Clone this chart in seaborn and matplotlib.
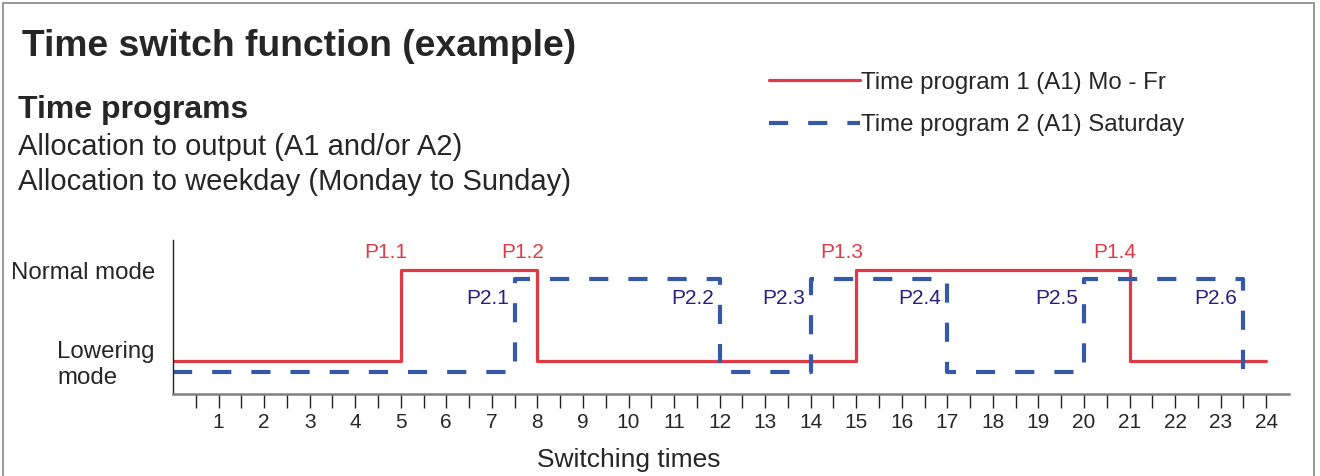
import numpy as np
import pandas as pd
import seaborn as sns
import matplotlib.pyplot as plt
from matplotlib.patches import Rectangle
from matplotlib.lines import Line2D

sns.set_style("white")
plt.rcParams['font.family'] = ['Liberation Sans', 'DejaVu Sans']

# switching times (hours) and state after each switch (1 = normal, 0 = lowering)
p1_times = [0, 5, 8, 15, 21, 24]
p1_states = [0, 1, 0, 1, 0, 0]
p1_labels = ['P1.1', 'P1.2', 'P1.3', 'P1.4']

p2_times = [0, 7.5, 12, 14, 17, 20, 23.5, 23.75]
p2_states = [0, 1, 0, 1, 0, 1, 0, 0]
p2_labels = ['P2.1', 'P2.2', 'P2.3', 'P2.4', 'P2.5', 'P2.6']

hours = list(range(1, 25))
mode_labels = ['Lowering\nmode', 'Normal mode']
series_names = ['Time program 1 (A1) Mo - Fr', 'Time program 2 (A1) Saturday']

red = '#E03A45'
blue = '#3558A8'
navy = '#2A1E80'
dash = (0, (4.6, 4.8))

# drawing levels for the two programs (so the lines don't overlap)
lev1 = (0.0, 1.0)
lev2 = (-0.12, 0.90)

df1 = pd.DataFrame({'t': p1_times,
                    'y': [lev1[s] for s in p1_states]})
df2 = pd.DataFrame({'t': p2_times,
                    'y': [lev2[s] for s in p2_states]})

fig = plt.figure(figsize=(13.2, 4.76), dpi=100)
ax = fig.add_axes([173/1320, 1-394/476, (1289-173)/1320, (394-240)/476])

sns.lineplot(data=df1, x='t', y='y', ax=ax, color=red, lw=2.3,
             drawstyle='steps-post', errorbar=None)
sns.lineplot(data=df2, x='t', y='y', ax=ax, color=blue, lw=3.0,
             drawstyle='steps-post', errorbar=None, linestyle=dash)

ax.set_xlim(0, 24.5)
ax.set_ylim(-0.363, 1.33)

# switch labels
for t, lab in zip(p1_times[1:5], p1_labels):
    ax.text(t + 0.15, 1.19, lab, color=red, fontsize=15,
            ha='right', va='center')
for t, lab in zip(p2_times[1:7], p2_labels):
    ax.text(t - 0.13, 0.69, lab, color=navy, fontsize=15,
            ha='right', va='center')

ax.set_xticks(hours)
ax.set_xticklabels([str(h) for h in hours], fontsize=15)
ax.set_xticks(np.arange(0.5, 24.01, 1.0), minor=True)
ax.tick_params(axis='x', which='both', direction='out', length=10,
               width=1.0, color='#222222', pad=4, bottom=True)
ax.set_yticks([0, 1])
ax.set_yticklabels(mode_labels, fontsize=17.3)
for lab in ax.get_yticklabels():
    lab.set_multialignment('left')
ax.tick_params(axis='y', length=0, pad=13)

ax.set_xlabel('Switching times', fontsize=19)
ax.xaxis.set_label_coords(0.408, -0.35)
ax.set_ylabel('')

for s in ['top', 'right']:
    ax.spines[s].set_visible(False)
ax.spines['left'].set_color('#222222')
ax.spines['left'].set_linewidth(1.0)
ax.spines['bottom'].set_color('#808080')
ax.spines['bottom'].set_linewidth(1.8)

# legend
handles = [Line2D([], [], color=red, lw=2.3),
           Line2D([], [], color=blue, lw=3.0, linestyle=dash)]
fig.legend(handles, series_names, loc='upper left',
           bbox_to_anchor=(759/1320, 1-62/476), frameon=False,
           fontsize=17.3, handlelength=3.8, handletextpad=0.05,
           labelspacing=0.85, borderaxespad=0)

# header texts
fig.text(22/1320, 1-46/476, 'Time switch function (example)',
         fontsize=26.8, fontweight='bold', va='center', ha='left')
fig.text(18/1320, 1-110/476, 'Time programs',
         fontsize=23, fontweight='bold', va='center', ha='left')
fig.text(18/1320, 1-147/476, 'Allocation to output (A1 and/or A2)',
         fontsize=21, va='center', ha='left')
fig.text(18/1320, 1-182/476, 'Allocation to weekday (Monday to Sunday)',
         fontsize=21, va='center', ha='left')

# outer frame
fig.patches.append(Rectangle((3/1320, -0.05), (1314-3)/1320, 1.05-3/476,
                             transform=fig.transFigure, fill=False,
                             edgecolor='#888888', lw=1.2))

fig.savefig('out.png', dpi=100)
